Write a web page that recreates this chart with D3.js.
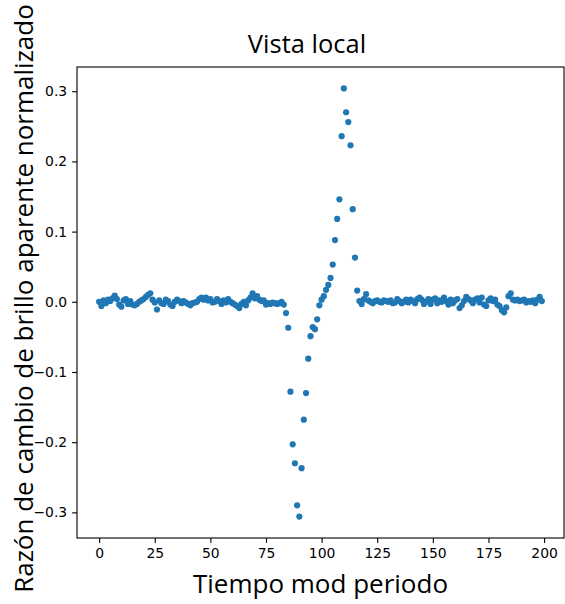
<!DOCTYPE html>
<html lang="es">
<head>
<meta charset="UTF-8">
<title>Vista local</title>
<style>
  body { margin: 0; background: #fff; }
  .tick text { font: 13.9px "DejaVu Sans", sans-serif; fill: #000; }
  .label { font-family: "Open Sans", sans-serif; fill: #000; }
</style>
</head>
<body>
<script src="https://d3js.org/d3.v7.min.js"></script>
<script>
// brillo normalizado, un punto por unidad de tiempo (0..199)
const antes = [
  0.000, -0.006, 0.002, -0.002, 0.003, 0.001, 0.005, 0.009, 0.004, -0.004,
  -0.007, 0.002, 0.004, -0.003, 0.001, -0.004, -0.005, -0.003, 0.000, 0.002,
  0.004, 0.007, 0.010, 0.012, 0.003, -0.001, -0.011, 0.002, -0.002, -0.003,
  0.003, 0.001, -0.004, -0.006, 0.000, 0.003, 0.001, -0.002, 0.001, -0.001,
  -0.003, -0.005, -0.002, -0.001, 0.000, 0.004, 0.006, 0.003, 0.006, 0.002,
  0.004, -0.001, 0.000, 0.004, 0.001, -0.003, 0.002, -0.001, 0.004, 0.000,
  -0.002, -0.004, -0.006, -0.009, -0.003, 0.000, -0.005, 0.002, 0.006, 0.012,
  0.005, 0.008, 0.003, 0.001, 0.002, -0.004, -0.002, -0.003, -0.001, -0.002,
  -0.003, -0.002, 0.000, -0.004
];
const transito = [
  -0.016, -0.037, -0.128, -0.203, -0.230, -0.290, -0.306, -0.237, -0.168, -0.130,
  -0.081, -0.049, -0.036, -0.039, -0.025, -0.005, 0.003, 0.008, 0.017, 0.024,
  0.034, 0.053, 0.088, 0.118, 0.146, 0.236, 0.304, 0.270, 0.256, 0.223,
  0.132, 0.063, 0.016
];
const despues = [
  0.001, -0.003, 0.004, 0.011, 0.002, 0.000, -0.002, 0.001, 0.002, 0.000,
  -0.001, 0.002, 0.001, 0.000, 0.002, -0.002, -0.001, 0.004, 0.001, -0.002,
  0.000, 0.003, -0.001, 0.003, 0.001, -0.002, 0.004, 0.006, 0.003, -0.003,
  0.000, 0.004, -0.003, 0.003, 0.005, -0.002, 0.002, 0.000, 0.006, 0.001,
  -0.004, 0.003, -0.002, 0.002, 0.004, -0.009, -0.005, 0.001, 0.007, 0.004,
  0.002, -0.002, 0.003, 0.005, -0.001, 0.006, -0.004, -0.006, 0.002, 0.005,
  0.001, 0.003, -0.004, -0.006, -0.012, -0.015, -0.008, 0.008, 0.012, 0.003,
  0.002, 0.003, 0.001, 0.002, 0.003, -0.001, 0.001, 0.000, 0.002, -0.002,
  0.003, 0.007, 0.001
];
const xTicks = [0, 25, 50, 75, 100, 125, 150, 175, 200];
const yTicks = [-0.3, -0.2, -0.1, 0.0, 0.1, 0.2, 0.3];

const brillo = antes.concat(transito, despues);

const width = 565, height = 604;
const margin = { top: 67, right: 1, bottom: 66, left: 77 };

const svg = d3.select("body").append("svg")
  .attr("width", width)
  .attr("height", height);

const x = d3.scaleLinear()
  .domain([-9.95, 208.95])
  .range([margin.left, width - margin.right]);

const yExt = d3.extent(brillo);
const pad = (yExt[1] - yExt[0]) * 0.05;
const y = d3.scaleLinear()
  .domain([yExt[0] - pad, yExt[1] + pad])
  .range([height - margin.bottom, margin.top]);

svg.append("g")
  .selectAll("circle")
  .data(brillo)
  .join("circle")
  .attr("cx", (d, i) => x(i))
  .attr("cy", d => y(d))
  .attr("r", 3.1)
  .attr("fill", "#1f77b4");

const xAxis = svg.append("g")
  .attr("transform", `translate(0,${height - margin.bottom})`)
  .call(d3.axisBottom(x).tickValues(xTicks).tickSize(4.9).tickPadding(4.9).tickFormat(d3.format("d")));

const yAxis = svg.append("g")
  .attr("transform", `translate(${margin.left},0)`)
  .call(d3.axisLeft(y).tickValues(yTicks).tickSize(4.9).tickPadding(4.9).tickFormat(d3.format(".1f")));

[xAxis, yAxis].forEach(g => {
  g.select(".domain").remove();
  g.selectAll(".tick line").attr("stroke", "#000").attr("stroke-width", 1.1);
});

// marco
svg.append("rect")
  .attr("x", margin.left)
  .attr("y", margin.top)
  .attr("width", width - margin.right - margin.left)
  .attr("height", height - margin.bottom - margin.top)
  .attr("fill", "none")
  .attr("stroke", "#000")
  .attr("stroke-width", 1.1);

svg.append("text")
  .attr("class", "label")
  .attr("x", 307)
  .attr("y", 53)
  .attr("text-anchor", "middle")
  .style("font-size", "25.5px")
  .text("Vista local");

svg.append("text")
  .attr("class", "label")
  .attr("x", (margin.left + width - margin.right) / 2)
  .attr("y", 593)
  .attr("text-anchor", "middle")
  .style("font-size", "26px")
  .text("Tiempo mod periodo");

svg.append("text")
  .attr("class", "label")
  .attr("transform", `translate(33,${(margin.top + height - margin.bottom) / 2 - 4}) rotate(-90)`)
  .attr("text-anchor", "middle")
  .style("font-size", "26px")
  .text("Razón de cambio de brillo aparente normalizado");
</script>
</body>
</html>
